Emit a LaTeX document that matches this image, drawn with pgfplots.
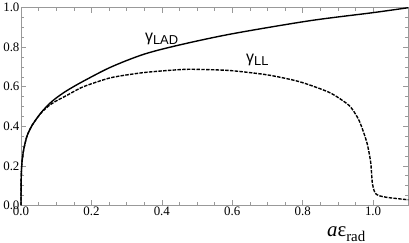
\documentclass[border=0pt]{standalone}
\usepackage{fontspec}
\setmainfont{Liberation Serif}
\newfontfamily\sansg{Liberation Sans}
\usepackage{pgfplots}
\pgfplotsset{compat=1.18}
\begin{document}
\begin{tikzpicture}
\begin{axis}[
  scale only axis, width=390pt, height=199pt,
  xmin=0, xmax=1.1, ymin=0, ymax=1.0,
  xtick={0,0.2,0.4,0.6,0.8,1.0}, ytick={0,0.2,0.4,0.6,0.8,1.0},
  minor tick num=3,
  tick align=inside,
  major tick length=5pt, minor tick length=3pt,
  axis line style={gray!80, line width=0.6pt},
  every tick/.style={gray!80, line width=0.5pt},
  tick label style={font=\fontsize{13}{13}\selectfont, black},
  /pgf/number format/assume math mode=true,
  /pgf/number format/fixed, /pgf/number format/fixed zerofill, /pgf/number format/precision=1,
  xticklabel style={yshift=2pt},
  yticklabel style={xshift=2pt},
  clip=false,
]
\addplot[black, line width=1.4pt, smooth, tension=0.5] coordinates {
(0,0) (0.0005,0.12) (0.0015,0.18) (0.003,0.22) (0.0075,0.28) (0.017,0.35) (0.03,0.40) (0.045,0.44) (0.06,0.475) (0.08,0.513) (0.1,0.543) (0.13,0.58) (0.177,0.628) (0.256,0.70) (0.35,0.765) (0.454,0.813) (0.6,0.868) (0.82,0.934) (1.0,0.975) (1.1,1.0)
};
\addplot[black, line width=1.4pt, dash pattern=on 3.5pt off 1.3pt, smooth, tension=0.4] coordinates {
(0,0) (0.0005,0.12) (0.0015,0.18) (0.003,0.22) (0.0075,0.28) (0.017,0.35) (0.03,0.40) (0.045,0.44) (0.06,0.473) (0.08,0.505) (0.1,0.528) (0.13,0.556) (0.177,0.60) (0.256,0.646) (0.35,0.672) (0.454,0.687) (0.5,0.688) (0.594,0.682) (0.7,0.66) (0.79,0.626) (0.876,0.571) (0.932,0.505) (0.96,0.43) (0.982,0.32) (0.993,0.22) (0.998,0.11) (1.005,0.065) (1.015,0.05) (1.04,0.04) (1.1,0.028)
};
\node[anchor=base west, inner sep=0] at (axis cs:0.352,0.828) {\sansg\fontsize{16}{16}\selectfont γ\raisebox{-0.2em}{\fontsize{13}{13}\selectfont LAD}};
\node[anchor=base west, inner sep=0] at (axis cs:0.639,0.722) {\sansg\fontsize{16}{16}\selectfont γ\raisebox{-0.2em}{\fontsize{13}{13}\selectfont LL}};
\node[anchor=base east, inner sep=1pt, yshift=-31pt] at (axis description cs:0.892,0) {\fontsize{21}{21}\selectfont\textit{a}ε\raisebox{-0.25em}{\fontsize{15}{15}\selectfont rad}};
\end{axis}
\end{tikzpicture}
\end{document}
